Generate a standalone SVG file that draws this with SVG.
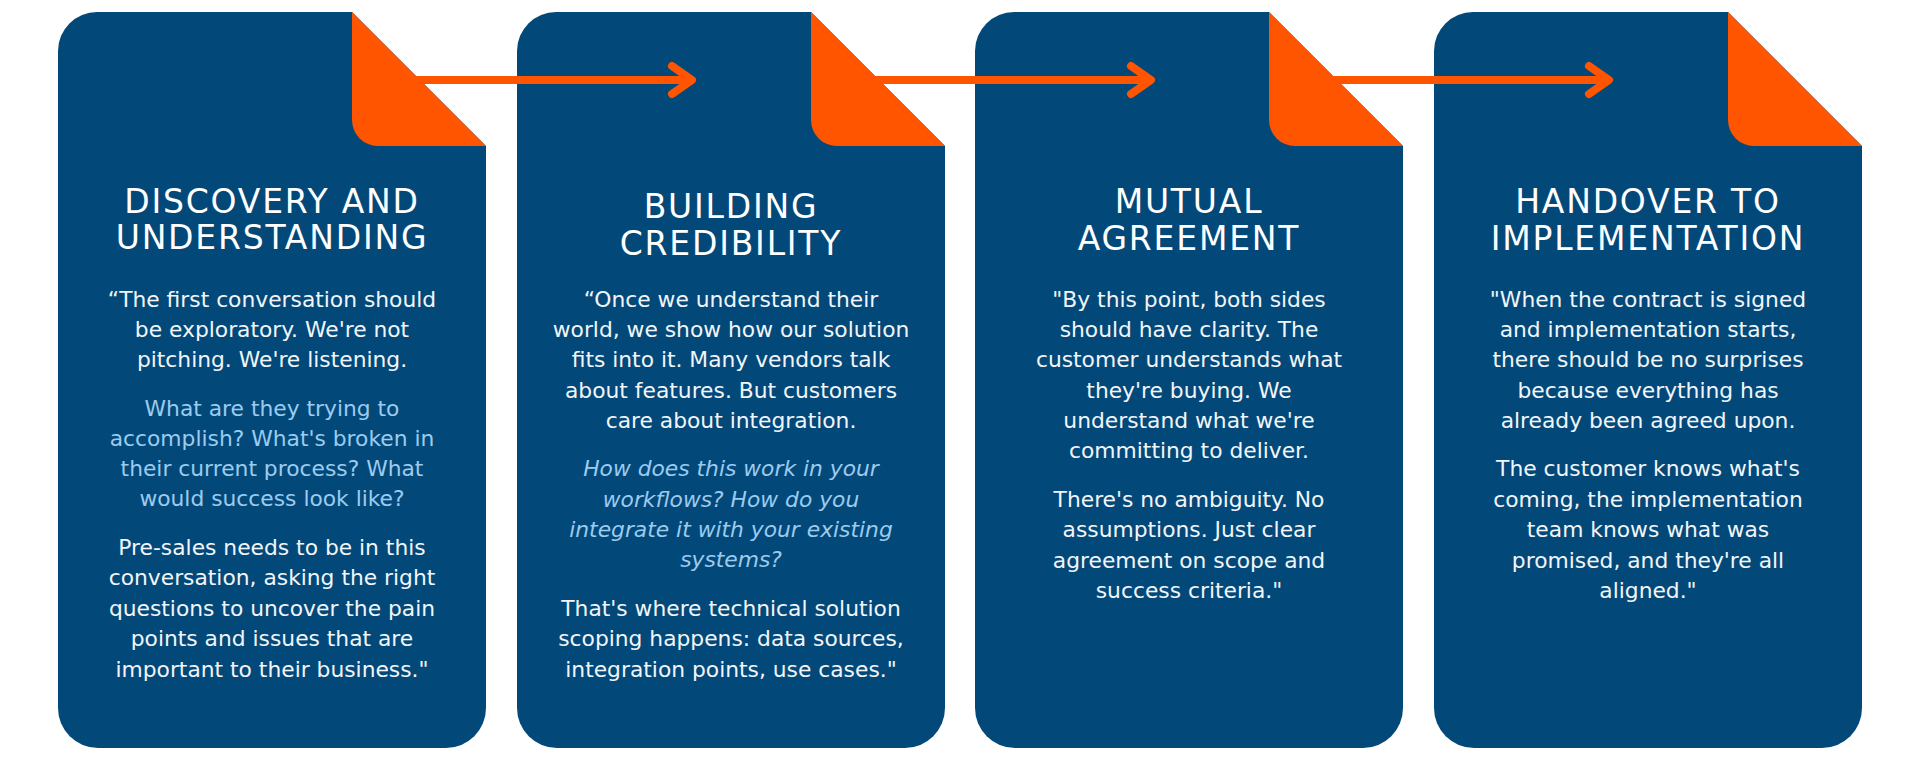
<svg xmlns="http://www.w3.org/2000/svg" width="1920" height="765" viewBox="0 0 1920 765">
<style>
.card{fill:#02497A}
.fold{fill:#FF5400}
.title{font-family:"DejaVu Sans",sans-serif;font-size:33px;fill:#FFFFFF;text-anchor:middle;letter-spacing:1.8px}
.body{font-family:"DejaVu Sans",sans-serif;font-size:21.8px;fill:#F2F5F8;text-anchor:middle}
.hl{fill:#9CCBEE}
.it{font-style:italic}
.arrow{fill:none;stroke:#FF5400;stroke-width:8}
</style>
<defs>
<marker id="chev" markerUnits="userSpaceOnUse" markerWidth="40" markerHeight="40" viewBox="-30 -20 40 40" refX="0" refY="0" orient="auto" overflow="visible">
<path d="M-20,-14 L0,0 L-20,14" fill="none" stroke="#FF5400" stroke-width="8" stroke-linecap="round" stroke-linejoin="round"/>
</marker>
</defs>

<g id="card1">
<path class="card" d="M97,12 H352 L486,146 V708 A40,40 0 0 1 446,748 H98 A40,40 0 0 1 58,708 V51 A39,39 0 0 1 97,12 Z"/>
<path class="fold" d="M352,12 L486,146 H378 A26,26 0 0 1 352,120 Z"/>
<text class="title" x="272" y="213">DISCOVERY AND</text>
<text class="title" x="272" y="249">UNDERSTANDING</text>
<text class="body" x="272" y="307">“The first conversation should</text>
<text class="body" x="272" y="337">be exploratory. We're not</text>
<text class="body" x="272" y="367">pitching. We're listening.</text>
<text class="body hl" x="272" y="416">What are they trying to</text>
<text class="body hl" x="272" y="446">accomplish? What's broken in</text>
<text class="body hl" x="272" y="476">their current process? What</text>
<text class="body hl" x="272" y="506">would success look like?</text>
<text class="body" x="272" y="555">Pre-sales needs to be in this</text>
<text class="body" x="272" y="585">conversation, asking the right</text>
<text class="body" x="272" y="616">questions to uncover the pain</text>
<text class="body" x="272" y="646">points and issues that are</text>
<text class="body" x="272" y="677">important to their business."</text>
</g>

<g id="card2">
<path class="card" d="M556,12 H811 L945,146 V708 A40,40 0 0 1 905,748 H557 A40,40 0 0 1 517,708 V51 A39,39 0 0 1 556,12 Z"/>
<path class="fold" d="M811,12 L945,146 H837 A26,26 0 0 1 811,120 Z"/>
<text class="title" x="731" y="218">BUILDING</text>
<text class="title" x="731" y="255">CREDIBILITY</text>
<text class="body" x="731" y="307">“Once we understand their</text>
<text class="body" x="731" y="337">world, we show how our solution</text>
<text class="body" x="731" y="367">fits into it. Many vendors talk</text>
<text class="body" x="731" y="398">about features. But customers</text>
<text class="body" x="731" y="428">care about integration.</text>
<text class="body hl it" x="731" y="476">How does this work in your</text>
<text class="body hl it" x="731" y="507">workflows? How do you</text>
<text class="body hl it" x="731" y="537">integrate it with your existing</text>
<text class="body hl it" x="731" y="567">systems?</text>
<text class="body" x="731" y="616">That's where technical solution</text>
<text class="body" x="731" y="646">scoping happens: data sources,</text>
<text class="body" x="731" y="677">integration points, use cases."</text>
</g>

<g id="card3">
<path class="card" d="M1014,12 H1269 L1403,146 V708 A40,40 0 0 1 1363,748 H1015 A40,40 0 0 1 975,708 V51 A39,39 0 0 1 1014,12 Z"/>
<path class="fold" d="M1269,12 L1403,146 H1295 A26,26 0 0 1 1269,120 Z"/>
<text class="title" x="1189" y="213">MUTUAL</text>
<text class="title" x="1189" y="250">AGREEMENT</text>
<text class="body" x="1189" y="307">"By this point, both sides</text>
<text class="body" x="1189" y="337">should have clarity. The</text>
<text class="body" x="1189" y="367">customer understands what</text>
<text class="body" x="1189" y="398">they're buying. We</text>
<text class="body" x="1189" y="428">understand what we're</text>
<text class="body" x="1189" y="458">committing to deliver.</text>
<text class="body" x="1189" y="507">There's no ambiguity. No</text>
<text class="body" x="1189" y="537">assumptions. Just clear</text>
<text class="body" x="1189" y="568">agreement on scope and</text>
<text class="body" x="1189" y="598">success criteria."</text>
</g>

<g id="card4">
<path class="card" d="M1473,12 H1728 L1862,146 V708 A40,40 0 0 1 1822,748 H1474 A40,40 0 0 1 1434,708 V51 A39,39 0 0 1 1473,12 Z"/>
<path class="fold" d="M1728,12 L1862,146 H1754 A26,26 0 0 1 1728,120 Z"/>
<text class="title" x="1648" y="213">HANDOVER TO</text>
<text class="title" x="1648" y="250">IMPLEMENTATION</text>
<text class="body" x="1648" y="307">"When the contract is signed</text>
<text class="body" x="1648" y="337">and implementation starts,</text>
<text class="body" x="1648" y="367">there should be no surprises</text>
<text class="body" x="1648" y="398">because everything has</text>
<text class="body" x="1648" y="428">already been agreed upon.</text>
<text class="body" x="1648" y="476">The customer knows what's</text>
<text class="body" x="1648" y="507">coming, the implementation</text>
<text class="body" x="1648" y="537">team knows what was</text>
<text class="body" x="1648" y="568">promised, and they're all</text>
<text class="body" x="1648" y="598">aligned."</text>
</g>

<g id="connectors">
<path class="arrow" d="M410,80 H692" marker-end="url(#chev)"/>
<path class="arrow" d="M869,80 H1151" marker-end="url(#chev)"/>
<path class="arrow" d="M1327,80 H1609" marker-end="url(#chev)"/>
</g>
</svg>
